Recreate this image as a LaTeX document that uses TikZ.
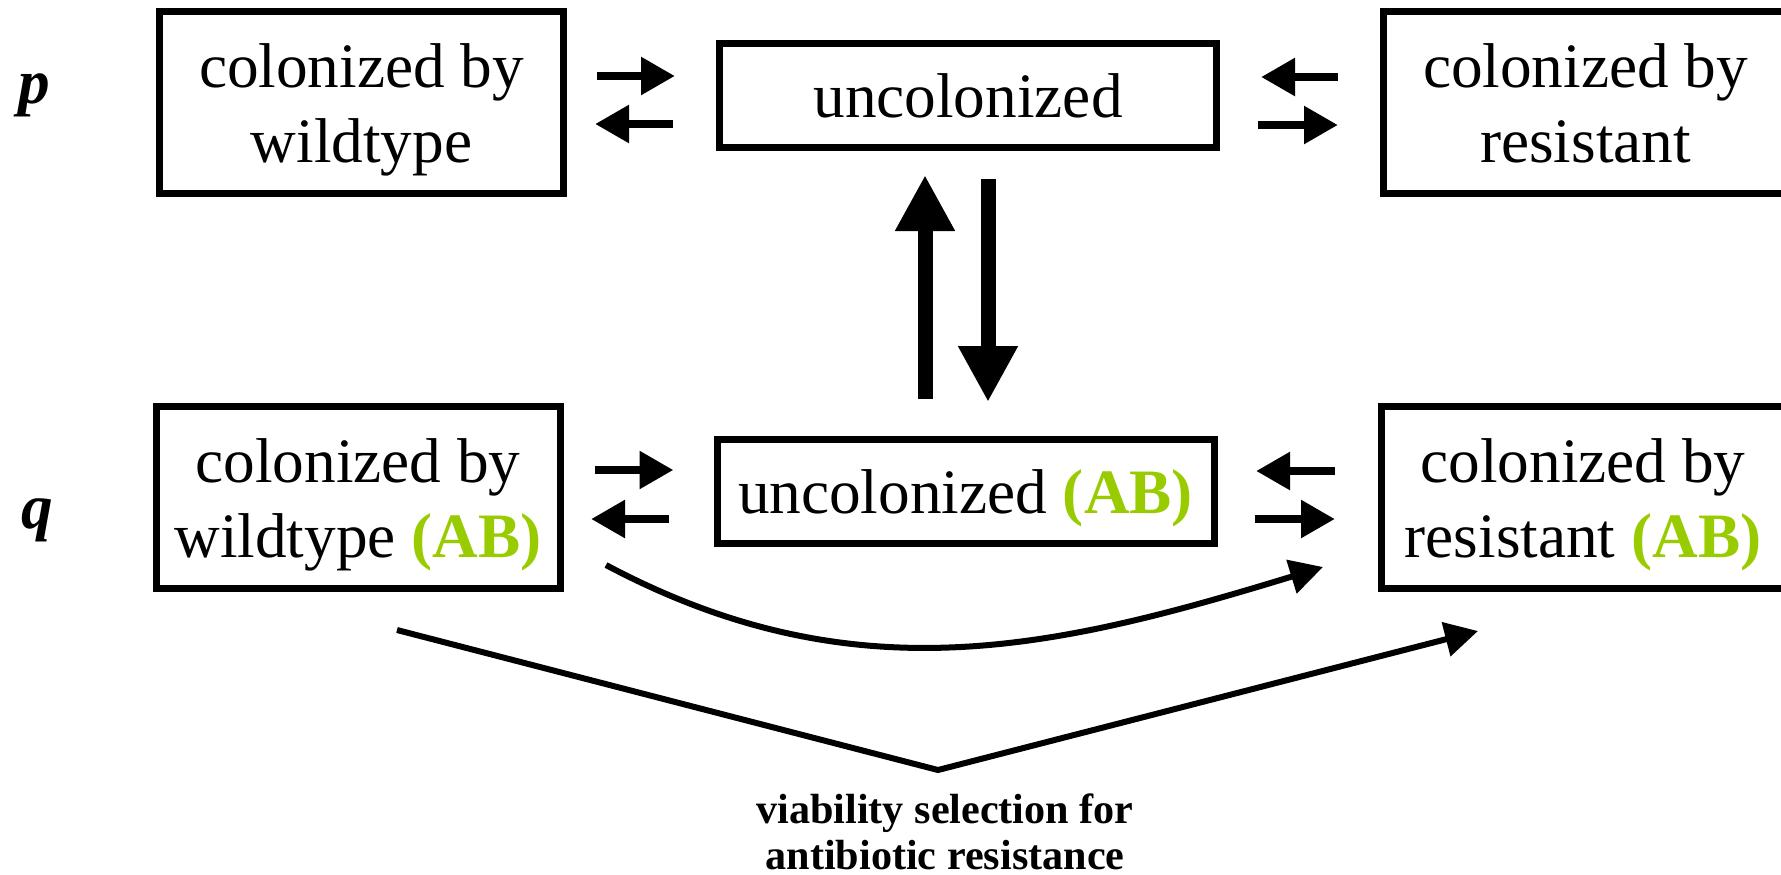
\documentclass[tikz,border=0pt]{standalone}
\usepackage{fontspec}
\setmainfont{Liberation Serif}
\usepackage{tikz}
\usetikzlibrary{arrows.meta}
\definecolor{abgreen}{RGB}{153,204,0}
\tikzstyle{arrow} = [line width=0.85mm,-{Triangle[length=3.4mm,width=3.6mm]}]
\tikzstyle{bigarrow} = [line width=1.5mm,-{Triangle[length=5.6mm,width=5.6mm]}]
\tikzstyle{thinarrow} = [line width=0.6mm,-{Triangle[length=3.3mm,width=3.4mm]}]
\newcommand{\ab}{\textcolor{abgreen}{\textbf{(AB)}}}

\begin{document}
\begin{tikzpicture}
   \tikzset{block/.style= {draw, rectangle, line width=0.7mm, align=center, inner sep=0pt, minimum width=4.04cm, minimum height=1.82cm, text height=38.4pt, text depth=3.9pt, font=\fontsize{18}{21.5}\selectfont},
   wblock/.style={block, minimum width=4.97cm, minimum height=1.04cm, text height=13pt, text depth=0pt},
   rowlabel/.style={font=\fontsize{18}{22}\selectfont\bfseries\itshape},
   note/.style={align=center, font=\fontsize{12}{13}\selectfont\bfseries}
   }
   \useasboundingbox (0,0) rectangle (17.81,-8.74);

 \node [rowlabel] (prow) at (0.34,-0.95) {p};
 \node [rowlabel] (qrow) at (0.37,-5.20) {q};

 \node [block] (wt) at (3.615,-1.02) {colonized by\\wildtype};
 \node [wblock, right of= wt, xshift=5.065cm, yshift=0.07cm] (unc) {uncolonized};
 \node [block, right of= unc, xshift=5.175cm, yshift=-0.07cm] (res) {colonized by\\resistant};

 \node [block, below of= wt, yshift=-2.95cm, xshift=-0.035cm] (wtab) {colonized by\\wildtype \ab};
 \node [wblock, below of= unc, yshift=-2.96cm, xshift=-0.025cm, text height=16.5pt, text depth=3.9pt] (uncab) {uncolonized \ab};
 \node [block, below of= res, yshift=-2.95cm, xshift=-0.025cm] (resab) {colonized by\\resistant \ab};

 \node [note] (sel) at (9.45,-8.32) {viability selection for\\antibiotic resistance};

 % arrow ends between the boxes
 \coordinate (tl1) at (5.97,-0.76);  \coordinate (tl2) at (6.75,-0.76);
 \coordinate (tl3) at (6.73,-1.24);  \coordinate (tl4) at (5.95,-1.24);
 \coordinate (tr1) at (13.38,-0.77); \coordinate (tr2) at (12.61,-0.77);
 \coordinate (tr3) at (12.58,-1.25); \coordinate (tr4) at (13.38,-1.25);
 \coordinate (bl1) at (5.95,-4.70);  \coordinate (bl2) at (6.735,-4.70);
 \coordinate (bl3) at (6.69,-5.19);  \coordinate (bl4) at (5.91,-5.19);
 \coordinate (br1) at (13.35,-4.71); \coordinate (br2) at (12.56,-4.71);
 \coordinate (br3) at (12.55,-5.19); \coordinate (br4) at (13.35,-5.19);
 \coordinate (up1) at (9.25,-3.99);  \coordinate (up2) at (9.25,-1.75);
 \coordinate (dn1) at (9.88,-1.79);  \coordinate (dn2) at (9.88,-4.02);
 \coordinate (cs) at (6.06,-5.65);   \coordinate (ce) at (13.23,-5.67);
 \coordinate (vs) at (3.97,-6.30);   \coordinate (vk) at (9.38,-7.70);
 \coordinate (ve) at (14.78,-6.31);

 \draw [arrow] (tl1) -- (tl2);
 \draw [arrow] (tl3) -- (tl4);
 \draw [arrow] (tr1) -- (tr2);
 \draw [arrow] (tr3) -- (tr4);
 \draw [arrow] (bl1) -- (bl2);
 \draw [arrow] (bl3) -- (bl4);
 \draw [arrow] (br1) -- (br2);
 \draw [arrow] (br3) -- (br4);
 \draw [bigarrow] (up1) -- (up2);
 \draw [bigarrow] (dn1) -- (dn2);
 \draw [thinarrow] (cs) to[out=-28,in=197] (ce);
 \draw [thinarrow] (vs) -- (vk) -- (ve);
\end{tikzpicture}
\end{document}
